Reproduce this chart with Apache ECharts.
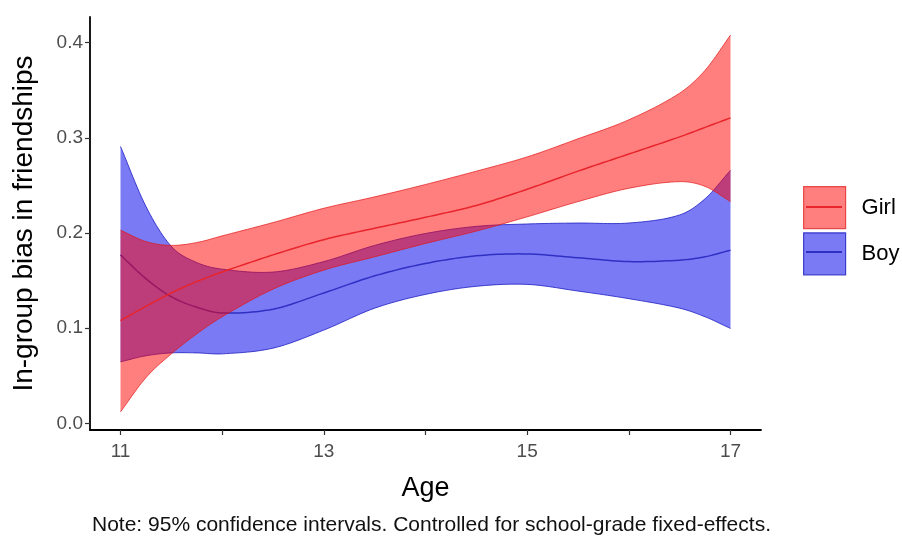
<!DOCTYPE html>
<html>
<head>
<meta charset="utf-8">
<style>
  html, body { margin: 0; padding: 0; background: #fff; }
  #chart { width: 902px; height: 540px; }
</style>
<script src="https://cdn.jsdelivr.net/npm/echarts@6/dist/echarts.min.js"></script>
</head>
<body>
<div id="chart"></div>
<script>
// ---- data ----
const ages = [11, 11.25, 11.5, 11.75, 12, 12.5, 13, 13.5, 14, 14.5, 15, 15.5, 16, 16.5, 16.75, 17];

const girlMean  = [0.108, 0.123, 0.137, 0.149, 0.159, 0.177, 0.193, 0.205, 0.2165, 0.229, 0.246, 0.265, 0.283, 0.301, 0.311, 0.321];
const girlLower = [0.012, 0.048, 0.073, 0.094, 0.112, 0.141, 0.161, 0.175, 0.189, 0.202, 0.217, 0.233, 0.247, 0.254, 0.249, 0.233];
const girlUpper = [0.203, 0.191, 0.187, 0.190, 0.197, 0.211, 0.226, 0.238, 0.251, 0.265, 0.280, 0.299, 0.319, 0.347, 0.371, 0.408];

const boyMean   = [0.177, 0.152, 0.133, 0.122, 0.116, 0.120, 0.137, 0.155, 0.168, 0.176, 0.178, 0.174, 0.170, 0.1715, 0.175, 0.182];
const boyLower  = [0.0646, 0.071, 0.074, 0.074, 0.073, 0.079, 0.098, 0.121, 0.1355, 0.144, 0.146, 0.139, 0.131, 0.121, 0.112, 0.0997];
const boyUpper  = [0.291, 0.228, 0.186, 0.169, 0.162, 0.159, 0.170, 0.187, 0.1995, 0.207, 0.2095, 0.2105, 0.2105, 0.219, 0.236, 0.266];

const xTicks = [11, 12, 13, 14, 15, 16, 17];
const xLabels = [11, 13, 15, 17];
const yTicks = [0, 0.1, 0.2, 0.3, 0.4];

const groups = ['Girl', 'Boy'];
const noteText = 'Note: 95% confidence intervals. Controlled for school-grade fixed-effects.';

// ---- styling ----
const FONT = 'Liberation Sans, Arial, sans-serif';
const STYLE = {
  Girl: { fill: 'rgba(255,0,0,0.5)', edge: 'rgba(225,20,20,0.7)', line: '#e8242c' },
  Boy:  { fill: 'rgba(10,10,235,0.54)', edge: 'rgba(20,20,190,0.75)', line: '#3030c4' }
};

// smooth sampling of pixel points (cubic Hermite, tangents from neighbours)
function smoothPts(p, steps) {
  const n = p.length, m = [];
  for (let i = 0; i < n; i++) {
    const a = p[Math.max(0, i - 1)], b = p[Math.min(n - 1, i + 1)];
    m.push((b[1] - a[1]) / (b[0] - a[0]));
  }
  const out = [p[0]];
  for (let i = 0; i < n - 1; i++) {
    const x0 = p[i][0], y0 = p[i][1], x1 = p[i + 1][0], y1 = p[i + 1][1], h = x1 - x0;
    for (let s = 1; s <= steps; s++) {
      const t = s / steps, t2 = t * t, t3 = t2 * t;
      const h00 = 2 * t3 - 3 * t2 + 1, h10 = t3 - 2 * t2 + t, h01 = -2 * t3 + 3 * t2, h11 = t3 - t2;
      out.push([x0 + h * t, h00 * y0 + h10 * h * m[i] + h01 * y1 + h11 * h * m[i + 1]]);
    }
  }
  return out;
}

function groupSeries(name, lower, upper, mean) {
  const st = STYLE[name];
  return {
    name: name,
    type: 'custom',
    coordinateSystem: 'cartesian2d',
    clip: true,
    silent: true,
    itemStyle: { color: st.fill },
    encode: { x: 0, y: [1, 2, 3] },
    data: ages.map((a, i) => [a, lower[i], upper[i], mean[i]]),
    renderItem: function (params, api) {
      if (params.dataIndexInside !== 0) return null;
      const lo = [], up = [], mid = [];
      for (let i = 0; i < ages.length; i++) {
        const x = api.value(0, i);
        lo.push(api.coord([x, api.value(1, i)]));
        up.push(api.coord([x, api.value(2, i)]));
        mid.push(api.coord([x, api.value(3, i)]));
      }
      const sUp = smoothPts(up, 12), sLo = smoothPts(lo, 12), sMid = smoothPts(mid, 12);
      return {
        type: 'group',
        children: [
          { type: 'polygon', shape: { points: sUp.concat(sLo.slice().reverse()) }, style: { fill: st.fill, stroke: null } },
          { type: 'polyline', shape: { points: sUp }, style: { stroke: st.edge, lineWidth: 1, fill: null } },
          { type: 'polyline', shape: { points: sLo }, style: { stroke: st.edge, lineWidth: 1, fill: null } },
          { type: 'polyline', shape: { points: sMid }, style: { stroke: st.line, lineWidth: 1.5, fill: null } }
        ]
      };
    }
  };
}

const series = [
  groupSeries('Boy', boyLower, boyUpper, boyMean),
  groupSeries('Girl', girlLower, girlUpper, girlMean)
];

const legends = [
  {
    orient: 'vertical',
    left: 803,
    top: 186,
    padding: 0,
    itemWidth: 42,
    itemHeight: 42,
    itemGap: 3,
    selectedMode: false,
    textStyle: { fontSize: 22, color: '#000', fontFamily: FONT, padding: [0, 0, 0, 11] },
    data: groups.map(g => ({
      name: g,
      icon: 'rect',
      itemStyle: { color: STYLE[g].fill, borderColor: STYLE[g].edge, borderWidth: 1.2 }
    }))
  }
];
groups.forEach((g, i) => {
  legends.push({
    orient: 'vertical',
    left: 806,
    top: 206 + i * 45,
    padding: 0,
    itemWidth: 36,
    itemHeight: 2,
    selectedMode: false,
    formatter: () => '',
    textStyle: { fontSize: 1, color: 'rgba(0,0,0,0)' },
    data: [{ name: g, icon: 'path://M0 0H36V2H0Z', itemStyle: { color: STYLE[g].line, borderWidth: 0 } }]
  });
});

const chart = echarts.init(document.getElementById('chart'), null, { renderer: 'canvas' });
chart.setOption({
  animation: false,
  backgroundColor: '#fff',
  textStyle: { fontFamily: FONT },
  title: {
    text: noteText,
    left: 92,
    top: 515,
    padding: 0,
    textStyle: { fontSize: 21, fontWeight: 'normal', color: '#111', fontFamily: FONT }
  },
  legend: legends,
  grid: { left: 90, right: 141, top: 17, bottom: 110, containLabel: false },
  xAxis: {
    type: 'value',
    min: 10.7,
    max: 17.3,
    name: 'Age',
    nameLocation: 'middle',
    nameGap: 45,
    nameTextStyle: { fontSize: 27, color: '#000' },
    splitLine: { show: false },
    axisLine: { show: true, onZero: false, lineStyle: { color: '#000', width: 1.8 } },
    axisTick: { show: true, length: 5, customValues: xTicks, lineStyle: { color: '#333', width: 1.2 } },
    axisLabel: { customValues: xLabels, fontSize: 19, color: '#4d4d4d', margin: 12 }
  },
  yAxis: {
    type: 'value',
    min: -0.007,
    max: 0.427,
    name: 'In-group bias in friendships',
    nameLocation: 'middle',
    nameGap: 52,
    nameTextStyle: { fontSize: 28, color: '#000' },
    splitLine: { show: false },
    axisLine: { show: true, onZero: false, lineStyle: { color: '#000', width: 1.8 } },
    axisTick: { show: true, length: 5, customValues: yTicks, lineStyle: { color: '#333', width: 1.2 } },
    axisLabel: { customValues: yTicks, fontSize: 19, color: '#4d4d4d', margin: 7, formatter: v => v.toFixed(1) }
  },
  series: series
});
</script>
</body>
</html>
